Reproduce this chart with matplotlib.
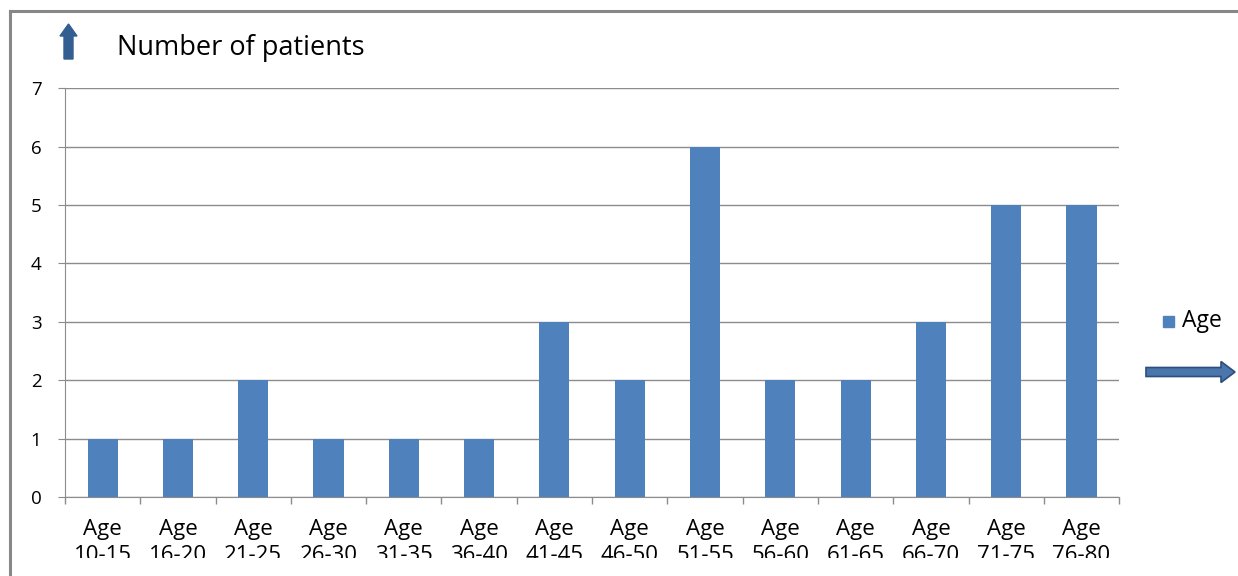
import numpy as np
import matplotlib.pyplot as plt
from matplotlib.patches import FancyArrow, Rectangle

plt.rcParams['font.family'] = ['Open Sans', 'DejaVu Sans']

groups = ['10-15', '16-20', '21-25', '26-30', '31-35', '36-40', '41-45',
          '46-50', '51-55', '56-60', '61-65', '66-70', '71-75', '76-80']
patients = [1, 1, 2, 1, 1, 1, 3, 2, 6, 2, 2, 3, 5, 5]
labels = ['Age\n' + g for g in groups]

blue = '#4F81BD'
grid = '#8C8C8C'

fig = plt.figure(figsize=(12.38, 5.76), dpi=100)
ax = fig.add_axes([0.0525, 0.137, 0.8515, 0.710])

x = np.arange(len(groups))
ax.bar(x, patients, width=0.4, color=blue, zorder=3, label='Age')

ax.set_xlim(-0.5, len(groups) - 0.5)
ax.set_ylim(0, 7)
ax.set_yticks(range(8))
ax.yaxis.grid(True, color=grid, lw=1, zorder=0)
ax.tick_params(axis='y', length=5, color=grid, labelsize=13.5, pad=12)

# category labels centred, ticks on the boundaries
ax.set_xticks(x)
ax.set_xticklabels(labels, fontsize=16, linespacing=1.3)
ax.tick_params(axis='x', which='major', length=0, pad=16)
ax.set_xticks(np.arange(-0.5, len(groups)), minor=True)
ax.tick_params(axis='x', which='minor', length=5, color=grid, width=1)

for s in ['top', 'right']:
    ax.spines[s].set_visible(False)
for s in ['left', 'bottom']:
    ax.spines[s].set_color(grid)

# y axis caption with arrow
fig.text(117 / 1238, 1 - 48 / 576, 'Number of patients', fontsize=19.5,
         va='center', ha='left')
fig.patches.append(FancyArrow(68.5 / 1238, 1 - 59 / 576, 0, 35 / 576,
                              width=9 / 1238, head_width=17 / 1238,
                              head_length=12 / 576, length_includes_head=True,
                              color='#335E91', transform=fig.transFigure))

# legend
fig.patches.append(Rectangle((1163 / 1238, 1 - 327 / 576), 11 / 1238, 11 / 576,
                             color=blue, transform=fig.transFigure))
fig.text(1182 / 1238, 1 - 321 / 576, 'Age', fontsize=16.5, va='center', ha='left')

# x axis arrow
fig.patches.append(FancyArrow(1146 / 1238, 1 - 372 / 576, 89 / 1238, 0,
                              width=9 / 576, head_width=21 / 576,
                              head_length=14 / 1238, length_includes_head=True,
                              facecolor='#4A76AC', edgecolor='#2B4F7C', lw=1.2,
                              transform=fig.transFigure))

# the plot area ends just below the category labels
fig.add_artist(Rectangle((0, 0), 1, 18 / 576, facecolor='white',
                         edgecolor='none', zorder=5,
                         transform=fig.transFigure))

# frame around the chart area
fig.add_artist(plt.Line2D([9.5 / 1238, 9.5 / 1238], [0, 1 - 11 / 576],
                          color='#878787', lw=2.2, zorder=6,
                          transform=fig.transFigure))
fig.add_artist(plt.Line2D([9.5 / 1238, 1], [1 - 11 / 576, 1 - 11 / 576],
                          color='#878787', lw=2.2, zorder=6,
                          transform=fig.transFigure))

fig.savefig('out.png', dpi=100)
